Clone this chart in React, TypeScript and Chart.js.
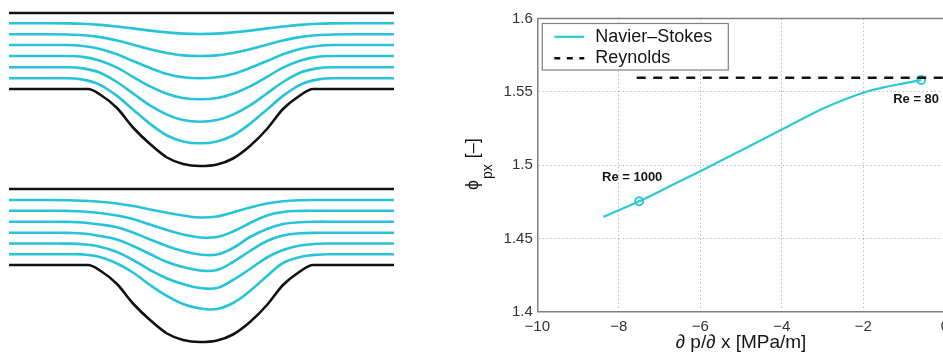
import React, { useEffect, useRef } from 'react';
import { Chart, registerables } from 'chart.js';

Chart.register(...registerables);

// ---------------- Left panels: channel walls and streamlines ----------------
// x = streamwise position, h = height above the flat lower wall (same units)
const STREAM_X = [9, 50, 67, 83, 100, 117, 133, 150, 167, 183, 200, 217, 233, 250, 267, 283, 300, 317, 333, 350, 394];
const WALL_X = [9, 88, 100, 117, 133, 150, 167, 183, 200, 217, 233, 250, 267, 283, 300, 313, 394];
const BUMP_H = [0, 0, -5.5, -19, -38.5, -55, -68.5, -75, -77, -75.5, -69.5, -57, -40, -20, -6.5, 0, 0];
const TOP_WALL_X = [9, 394];
const TOP_WALL_H = [76, 76];

// Reynolds (upper panel) streamlines
const REY_1 = [65.7, 65.7, 65.6, 65.2, 64.1, 62.5, 60.6, 58.4, 56.6, 55.4, 55.0, 55.4, 56.6, 58.4, 60.6, 62.5, 64.1, 65.2, 65.6, 65.7, 65.7];
const REY_2 = [54.7, 54.7, 54.5, 53.8, 51.9, 48.4, 44.3, 39.7, 36.0, 33.6, 33.0, 33.6, 36.0, 39.7, 44.3, 48.4, 51.9, 53.8, 54.5, 54.7, 54.7];
const REY_3 = [44, 44, 44, 43.0, 40.0, 34.7, 28.0, 21.0, 15.0, 11.7, 10.7, 11.7, 15.0, 21.0, 28.0, 34.7, 40.0, 43.0, 44, 44, 44];
const REY_4 = [33, 33, 33, 32.1, 28.2, 21.3, 12.2, 2.7, -4.7, -9.0, -10.3, -9.0, -4.7, 2.7, 12.2, 21.3, 28.2, 32.1, 33, 33, 33];
const REY_5 = [21.7, 21.7, 21.7, 20.6, 16.3, 7.0, -4.4, -16.4, -25.6, -31.1, -32.7, -31.1, -25.6, -16.4, -4.4, 7.0, 16.3, 20.6, 21.7, 21.7, 21.7];
const REY_6 = [10.7, 10.7, 10.7, 9.4, 4.2, -6.9, -20.5, -34.8, -46.5, -52.4, -54.3, -52.4, -46.5, -34.8, -20.5, -6.9, 4.2, 9.4, 10.7, 10.7, 10.7];

// Navier-Stokes (lower panel) streamlines
const NS_1 = [65, 65, 64.8, 64.3, 63.3, 61.5, 59, 55.5, 52.2, 49.5, 47.5, 48.5, 52.5, 57.5, 61.5, 63.8, 64.8, 65, 65, 65, 65];
const NS_2 = [54.3, 54.3, 54.1, 53.5, 52, 49.5, 46, 40.5, 35, 30.5, 27.5, 28, 33.5, 42, 49.5, 53, 54.1, 54.3, 54.3, 54.3, 54.3];
const NS_3 = [43.3, 43.3, 43.1, 42.5, 40.5, 37.8, 32.5, 25.5, 19, 14, 10.5, 10.5, 17, 28, 36, 41, 42.8, 43.3, 43.3, 43.3, 43.3];
const NS_4 = [32.3, 32.3, 32.1, 31.5, 29, 25.5, 19, 11, 3, -2, -5.5, -5, 3, 14, 24, 29.5, 31.7, 32.2, 32.3, 32.3, 32.3];
const NS_5 = [21.5, 21.5, 21.4, 20.8, 18.3, 13, 5, -5, -13.5, -19, -23, -23, -15, -4, 7.5, 15, 19.5, 21.2, 21.5, 21.5, 21.5];
const NS_6 = [10.7, 10.7, 10.7, 10.6, 8, 1.5, -7.5, -20, -31, -39, -43.5, -44, -38, -26, -11, 2, 8, 10.3, 10.7, 10.7, 10.7];

// ---------------- Right chart ----------------
const SERIES_NAMES = ['Navier\u2013Stokes', 'Reynolds'];
const NS_DPDX = [-8.38, -7.5, -6.75, -6, -5, -4, -3, -2.5, -2, -1.5, -1, -0.58];
const NS_PHI = [1.4647, 1.4753, 1.4855, 1.4958, 1.51, 1.5243, 1.5385, 1.5443, 1.5494, 1.553, 1.5558, 1.558];
const REY_DPDX = [-7.56, 0];
const REY_PHI = [1.5596, 1.5596];
const MARK_DPDX = [-7.5, -0.58];
const MARK_PHI = [1.4753, 1.558];
const MARK_LABELS = ['Re = 1000', 'Re = 80'];
const X_TICKS = [-10, -8, -6, -4, -2, 0];
const Y_TICKS = [1.4, 1.45, 1.5, 1.55, 1.6];
const X_TITLE = '\u2202 p/\u2202 x [MPa/m]';
const Y_TITLE_MAIN = '\u03d5';
const Y_TITLE_SUB = 'px';
const Y_TITLE_UNIT = ' [\u2013]';

// ---------------- styles ----------------
const FONT = '"Liberation Sans", Arial, Helvetica, sans-serif';
const STREAM_COLOR = 'rgb(38,196,214)';
const WALL_COLOR = '#111111';
const NS_COLOR = 'rgb(45,202,210)';
const AXIS_COLOR = '#808080';
const GRID_COLOR = 'rgba(0,0,0,0.25)';
const TEXT_COLOR = '#161616';
const TICK_COLOR = '#333333';

const pts = (xs: number[], ys: number[]) => xs.map((x, i) => ({ x, y: ys[i] }));

function streamConfig(lines: number[][], smooth: boolean): any {
  const walls = [
    { data: pts(TOP_WALL_X, TOP_WALL_H), borderColor: WALL_COLOR, borderWidth: 2.6, cubicInterpolationMode: 'monotone' },
    { data: pts(WALL_X, BUMP_H), borderColor: WALL_COLOR, borderWidth: 2.6, cubicInterpolationMode: 'monotone' },
  ];
  const streams = lines.map((l) =>
    smooth
      ? { data: pts(STREAM_X, l), borderColor: STREAM_COLOR, borderWidth: 2.6, tension: 0.4 }
      : { data: pts(STREAM_X, l), borderColor: STREAM_COLOR, borderWidth: 2.6, cubicInterpolationMode: 'monotone' }
  );
  const datasets = [...walls, ...streams].map((d) => ({ ...d, pointRadius: 0, fill: false }));
  return {
    type: 'line',
    data: { datasets },
    options: {
      animation: false,
      responsive: false,
      events: [],
      layout: { padding: 0 },
      plugins: { legend: { display: false }, tooltip: { enabled: false } },
      scales: {
        x: { type: 'linear', min: 0, max: 400, display: false },
        y: { type: 'linear', min: -89, max: 89, display: false },
      },
    },
  };
}

const decorPlugin = {
  id: 'decor',
  afterDraw(chart: any) {
    const { ctx, chartArea: a } = chart;
    ctx.save();
    // axes box (top and right edges)
    ctx.strokeStyle = AXIS_COLOR;
    ctx.lineWidth = 1.5;
    ctx.setLineDash([]);
    ctx.beginPath();
    ctx.moveTo(a.left, a.top);
    ctx.lineTo(a.right, a.top);
    ctx.lineTo(a.right, a.bottom);
    ctx.stroke();

    // marker labels
    const meta = chart.getDatasetMeta(2);
    ctx.font = `bold 13px ${FONT}`;
    ctx.fillStyle = TEXT_COLOR;
    ctx.textBaseline = 'middle';
    meta.data.forEach((el: any, i: number) => {
      const { x, y } = el.getProps(['x', 'y'], true);
      if (i === 0) {
        ctx.textAlign = 'center';
        ctx.fillText(MARK_LABELS[i], x - 7, y - 24);
      } else {
        ctx.textAlign = 'left';
        ctx.fillText(MARK_LABELS[i], x - 28, y + 19);
      }
    });

    // legend
    const bx = a.left + 5;
    const by = a.top + 5;
    const bw = 186;
    const bh = 46.5;
    ctx.fillStyle = '#ffffff';
    ctx.fillRect(bx, by, bw, bh);
    ctx.strokeStyle = AXIS_COLOR;
    ctx.lineWidth = 1.2;
    ctx.strokeRect(bx, by, bw, bh);
    const rows = [by + 13.3, by + 34.8];
    const ds = chart.data.datasets;
    ctx.font = `18px ${FONT}`;
    ctx.textAlign = 'left';
    ctx.textBaseline = 'middle';
    [0, 1].forEach((k) => {
      ctx.strokeStyle = ds[k].borderColor;
      ctx.lineWidth = k === 0 ? 2.2 : 2.4;
      ctx.setLineDash(k === 0 ? [] : [6, 6.5]);
      ctx.beginPath();
      ctx.moveTo(bx + 12, rows[k]);
      ctx.lineTo(bx + 42, rows[k]);
      ctx.stroke();
      ctx.setLineDash([]);
      ctx.fillStyle = TEXT_COLOR;
      ctx.fillText(ds[k].label, bx + 53, rows[k]);
    });

    // y axis title with subscript
    const cy = (a.top + a.bottom) / 2;
    ctx.translate(38, cy);
    ctx.rotate(-Math.PI / 2);
    ctx.textBaseline = 'alphabetic';
    ctx.textAlign = 'left';
    const mainFont = `18px ${FONT}`;
    const subFont = `14px ${FONT}`;
    ctx.font = mainFont;
    const w1 = ctx.measureText(Y_TITLE_MAIN).width;
    const w3 = ctx.measureText(Y_TITLE_UNIT).width;
    ctx.font = subFont;
    const w2 = ctx.measureText(Y_TITLE_SUB).width;
    const x0 = -(w1 + w2 + w3) / 2;
    ctx.fillStyle = TEXT_COLOR;
    ctx.font = mainFont;
    ctx.fillText(Y_TITLE_MAIN, x0, 0);
    ctx.font = subFont;
    ctx.fillText(Y_TITLE_SUB, x0 + w1 + 1, 14);
    ctx.font = mainFont;
    ctx.fillText(Y_TITLE_UNIT, x0 + w1 + w2 + 2, 0);
    ctx.restore();
  },
};

function mainConfig(): any {
  const fmt = (v: number) => (v < 0 ? '\u2212' + Math.abs(v) : String(v));
  return {
    type: 'line',
    data: {
      datasets: [
        {
          label: SERIES_NAMES[0],
          data: pts(NS_DPDX, NS_PHI),
          borderColor: NS_COLOR,
          borderWidth: 2.2,
          pointRadius: 0,
          cubicInterpolationMode: 'monotone',
          fill: false,
        },
        {
          label: SERIES_NAMES[1],
          data: pts(REY_DPDX, REY_PHI),
          borderColor: '#111111',
          borderWidth: 2.6,
          borderDash: [9, 7.5],
          pointRadius: 0,
          fill: false,
        },
        {
          label: 'markers',
          data: pts(MARK_DPDX, MARK_PHI),
          showLine: false,
          borderColor: NS_COLOR,
          backgroundColor: 'rgba(0,0,0,0)',
          pointRadius: 4,
          pointBorderWidth: 2,
          pointStyle: 'circle',
        },
      ],
    },
    options: {
      animation: false,
      responsive: false,
      events: [],
      layout: { padding: { left: 26, top: 18.5, right: 25.2, bottom: 0 } },
      plugins: { legend: { display: false }, tooltip: { enabled: false } },
      scales: {
        x: {
          type: 'linear',
          min: -10,
          max: 0,
          afterBuildTicks: (s: any) => {
            s.ticks = X_TICKS.map((v) => ({ value: v }));
          },
          ticks: {
            callback: (v: number) => fmt(v),
            font: { family: FONT, size: 15 },
            color: TICK_COLOR,
            padding: 6,
            maxRotation: 0,
            autoSkip: false,
          },
          grid: { color: GRID_COLOR, lineWidth: 1, drawTicks: false },
          border: { color: AXIS_COLOR, width: 1.5, dash: [1.5, 2.5] },
          title: {
            display: true,
            text: X_TITLE,
            font: { family: FONT, size: 19 },
            color: TEXT_COLOR,
            padding: { top: 0, bottom: 2 },
          },
          afterFit: (s: any) => {
            s.height = 44.3;
          },
        },
        y: {
          type: 'linear',
          min: 1.4,
          max: 1.6,
          afterBuildTicks: (s: any) => {
            s.ticks = Y_TICKS.map((v) => ({ value: v }));
          },
          ticks: {
            callback: (v: number) => String(v),
            font: { family: FONT, size: 15 },
            color: TICK_COLOR,
            padding: 4.5,
            autoSkip: false,
          },
          grid: { color: GRID_COLOR, lineWidth: 1, drawTicks: false },
          border: { color: AXIS_COLOR, width: 1.5, dash: [1.5, 2.5] },
          afterFit: (s: any) => {
            s.width = 71.3;
          },
        },
      },
    },
    plugins: [decorPlugin],
  };
}

function ChartCanvas(props: { make: () => any; left: number; top: number; width: number; height: number }) {
  const ref = useRef<HTMLCanvasElement | null>(null);
  useEffect(() => {
    if (!ref.current) return;
    const chart = new Chart(ref.current, props.make());
    return () => chart.destroy();
  }, []);
  return (
    <canvas
      ref={ref}
      width={props.width}
      height={props.height}
      style={{
        position: 'absolute',
        left: props.left,
        top: props.top,
        width: props.width,
        height: props.height,
        display: 'block',
      }}
    />
  );
}

export default function App() {
  return (
    <div
      style={{
        position: 'fixed',
        left: 0,
        top: 0,
        width: 943,
        height: 356,
        overflow: 'hidden',
        background: '#ffffff',
      }}
    >
      <ChartCanvas
        make={() => streamConfig([REY_1, REY_2, REY_3, REY_4, REY_5, REY_6], false)}
        left={0}
        top={0}
        width={400}
        height={178}
      />
      <ChartCanvas
        make={() => streamConfig([NS_1, NS_2, NS_3, NS_4, NS_5, NS_6], true)}
        left={0}
        top={176}
        width={400}
        height={178}
      />
      <ChartCanvas make={mainConfig} left={440} top={0} width={530} height={356} />
    </div>
  );
}
